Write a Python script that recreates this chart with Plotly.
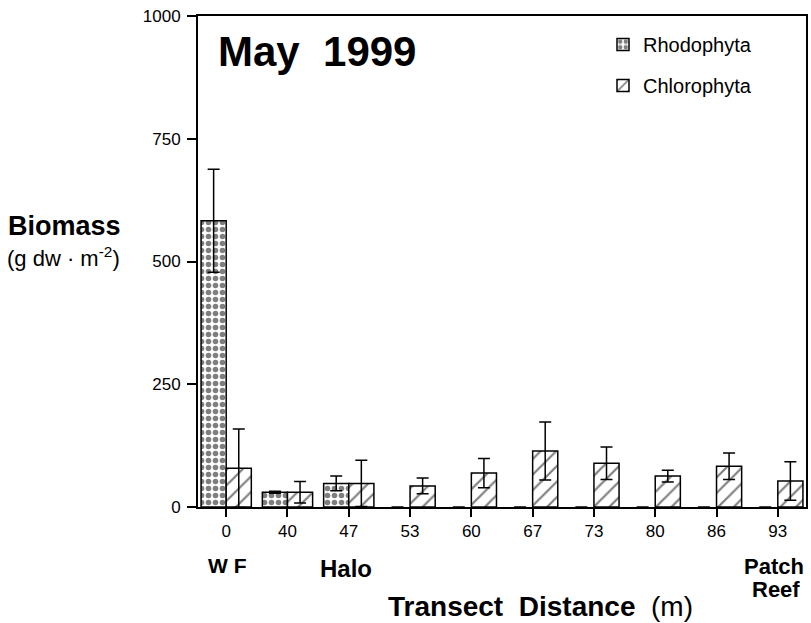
import plotly.graph_objects as go

# ---- data ----
distances = ["0", "40", "47", "53", "60", "67", "73", "80", "86", "93"]
rhodophyta = [583, 30, 48, 0, 0, 0, 0, 0, 0, 0]
rhodophyta_err = [105, 2, 15, None, None, None, None, None, None, None]
chlorophyta = [79, 30, 48, 43, 69, 114, 89, 63, 83, 53]
chlorophyta_err = [80, 22, 47, 16, 30, 59, 33, 12, 27, 39]
y_ticks = [0, 250, 500, 750, 1000]

FONT = "Liberation Sans, Arial, Helvetica, sans-serif"

W, H = 811, 623
L, R, T, B = 198, 5, 16, 116
PW, PH = W - L - R, H - T - B


def px(xp):
    return (xp - L) / PW


def py(yp):
    return (H - B - yp) / PH


rh_line = [1.5 if v > 0 else 0 for v in rhodophyta]

fig = go.Figure()
fig.add_trace(go.Bar(
    x=distances, y=rhodophyta, name="Rhodophyta", legendgroup="r",
    marker=dict(color="white", line=dict(color="black", width=rh_line),
                pattern=dict(shape=".", fgcolor="black", bgcolor="white",
                             size=7, solidity=0.5, fillmode="overlay")),
    error_y=dict(type="data", array=rhodophyta_err, symmetric=True,
                 color="black", thickness=1.5, width=6),
))
fig.add_trace(go.Bar(
    x=distances, y=chlorophyta, name="Chlorophyta", legendgroup="c",
    marker=dict(color="white", line=dict(color="black", width=1.5),
                pattern=dict(shape="/", fgcolor="black", bgcolor="white",
                             size=11, solidity=0.2, fillmode="overlay")),
    error_y=dict(type="data", array=chlorophyta_err, symmetric=True,
                 color="black", thickness=1.5, width=6),
))

fig.update_layout(
    width=W, height=H,
    margin=dict(l=L, r=R, t=T, b=B, pad=0, autoexpand=False),
    paper_bgcolor="white", plot_bgcolor="white",
    barmode="group", bargap=0.18, bargroupgap=0,
    font=dict(family=FONT, color="black", size=17),
    showlegend=True,
    legend=dict(x=px(603), y=py(25), xanchor="left", yanchor="top",
                font=dict(size=20, family=FONT), bgcolor="rgba(0,0,0,0)",
                tracegroupgap=12, traceorder="grouped"),
    xaxis=dict(type="category", categoryorder="array", categoryarray=distances,
               range=[-0.46, 9.46], showgrid=False, zeroline=False,
               showline=True, linecolor="black", linewidth=1.8, mirror=True,
               ticks="outside", ticklen=8, tickwidth=1.5, tickcolor="black",
               tickfont=dict(size=17, family=FONT)),
    yaxis=dict(range=[0, 1000], tickvals=y_ticks, showgrid=False, zeroline=False,
               showline=True, linecolor="black", linewidth=1.8, mirror=True,
               ticks="outside", ticklen=9, tickwidth=1.5, tickcolor="black",
               ticklabelstandoff=3,
               tickfont=dict(size=17, family=FONT)),
)

ann = [
    dict(text="<b>May\u00a0\u00a01999</b>", x=px(216), y=py(51), xanchor="left",
         yanchor="middle", font=dict(size=42)),
    dict(text="<b>Biomass</b>", x=px(6), y=py(226), xanchor="left",
         yanchor="middle", font=dict(size=27)),
    dict(text="(g dw \u00b7 m<sup>-2</sup>)", x=px(5), y=py(257), xanchor="left",
         yanchor="middle", font=dict(size=22)),
    dict(text="<b>W F</b>", x=px(227), y=py(565), xanchor="center",
         yanchor="middle", font=dict(size=21)),
    dict(text="<b>Halo</b>", x=px(346), y=py(568), xanchor="center",
         yanchor="middle", font=dict(size=24)),
    dict(text="<b>Patch</b>", x=px(774), y=py(566), xanchor="center",
         yanchor="middle", font=dict(size=22)),
    dict(text="<b>Reef</b>", x=px(776), y=py(589), xanchor="center",
         yanchor="middle", font=dict(size=22)),
    dict(text="<b>Transect  Distance</b>  (m)", x=px(540), y=py(606), xanchor="center",
         yanchor="middle", font=dict(size=28)),
]
for a in ann:
    a.update(xref="paper", yref="paper", showarrow=False)
    a["font"]["family"] = FONT
    a["font"]["color"] = "black"
fig.update_layout(annotations=ann)

fig.write_html("out.html",
               config={"displayModeBar": False},
               post_script="document.body.style.margin='0px';"
                           "document.body.style.overflow='hidden';")
